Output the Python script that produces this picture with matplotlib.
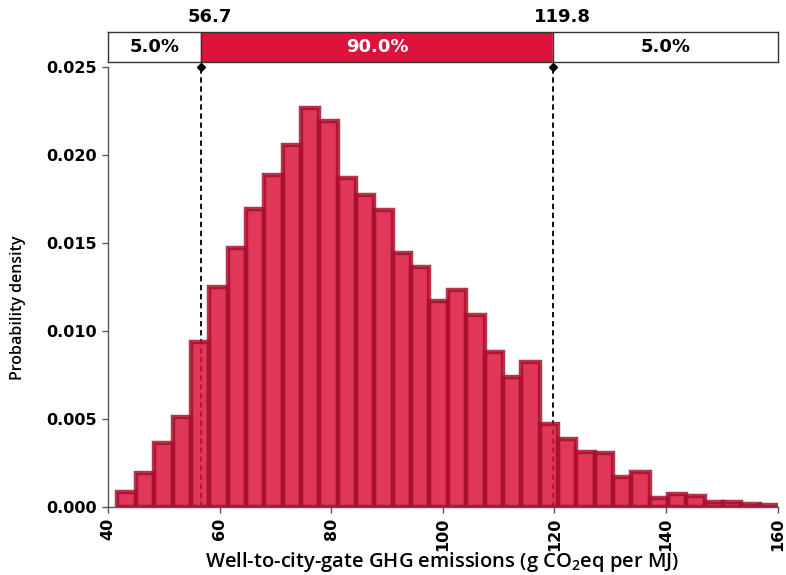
import numpy as np
import matplotlib
matplotlib.use("Agg")
import matplotlib.pyplot as plt
from matplotlib.transforms import offset_copy

# Histogram of well-to-city-gate GHG emissions (36 equal-width bins)
bin_lo = 41.7
bin_hi = 160.1
n_bins = 36
density = [0.00087, 0.00193, 0.00361, 0.00510, 0.00935, 0.01251, 0.01470,
           0.01693, 0.01886, 0.02056, 0.02268, 0.02192, 0.01869, 0.01773,
           0.01688, 0.01442, 0.01366, 0.01168, 0.01231, 0.01092, 0.00879,
           0.00737, 0.00824, 0.00472, 0.00384, 0.00313, 0.00304, 0.00170,
           0.00200, 0.00049, 0.00072, 0.00064, 0.00028, 0.00026, 0.00015,
           0.00013]

# 5th / 95th percentiles and the shares they split off
p_low = 56.7
p_high = 119.8
shares = ["5.0%", "90.0%", "5.0%"]

x_ticks = [40, 60, 80, 100, 120, 140, 160]
y_ticks = [0.000, 0.005, 0.010, 0.015, 0.020, 0.025]

edges = np.linspace(bin_lo, bin_hi, n_bins + 1)

fig = plt.figure(figsize=(7.86, 5.75), dpi=100)
ax = fig.add_axes([0.1374, 0.1183, 0.8519, 0.7652])
band = fig.add_axes([0.1374, 0.8922, 0.8519, 0.0522])

# percentile guide lines, drawn beneath the translucent bars
for p in (p_low, p_high):
    ax.plot([p, p], [0, 0.025], color="black", lw=1.3, ls=(0, (3, 2)),
            zorder=1, clip_on=False)
    ax.plot([p], [0.025], marker="D", ms=4.5, color="black", zorder=5,
            clip_on=False)

ax.bar(edges[:-1], density, width=np.diff(edges), align="edge",
       color="#DC143C", alpha=0.85, edgecolor="#A8102E", linewidth=3.2,
       zorder=2)

ax.set_xlim(40, 160)
ax.set_ylim(0, 0.025)
ax.set_xticks(x_ticks)
ax.set_yticks(y_ticks)
ax.set_xticklabels([str(t) for t in x_ticks], rotation=90,
                   fontsize=11.5, fontweight="bold")
ax.set_yticklabels([f"{t:.3f}" for t in y_ticks], fontsize=11.5,
                   fontweight="bold")
ax.tick_params(direction="out", length=4, width=1, color="#555555",
               pad=4)
for s in ("top", "right"):
    ax.spines[s].set_visible(False)
for s in ("left", "bottom"):
    ax.spines[s].set_color("#555555")
    ax.spines[s].set_linewidth(1)

fig.text(0.5624, 0.0226,
         r"Well-to-city-gate GHG emissions (g CO$_\mathregular{2}$eq per MJ)",
         ha="center", va="center", fontsize=14.5, family="Open Sans",
         fontweight="semibold")
fig.text(0.023, 0.465, "Probability density", rotation=90, ha="center",
         va="center", fontsize=11.5, family="Open Sans",
         fontweight="semibold")

# percentile band above the histogram
band.set_xlim(40, 160)
band.set_ylim(0, 1)
band.axvspan(40, p_low, color="white", zorder=1)
band.axvspan(p_low, p_high, color="#DC143C", zorder=1)
band.axvspan(p_high, 160, color="white", zorder=1)
band.axvline(p_low, color="#333333", lw=1)
band.axvline(p_high, color="#333333", lw=1)
band.text((40 + p_low) / 2, 0.5, shares[0], ha="center", va="center",
          fontsize=13, fontweight="bold", color="black")
band.text((p_low + p_high) / 2, 0.5, shares[1], ha="center", va="center",
          fontsize=13, fontweight="bold", color="white")
band.text((p_high + 160) / 2, 0.5, shares[2], ha="center", va="center",
          fontsize=13, fontweight="bold", color="black")
label_tf = offset_copy(band.get_xaxis_transform(), fig=fig, x=9, y=0,
                       units="dots")
for p in (p_low, p_high):
    band.text(p, 1.5, f"{p:.1f}", ha="center", va="center",
              fontsize=13, fontweight="bold", color="black",
              transform=label_tf)
band.set_xticks([])
band.set_yticks([])
for s in band.spines.values():
    s.set_color("#333333")
    s.set_linewidth(1)

fig.savefig("out.png", dpi=100)
